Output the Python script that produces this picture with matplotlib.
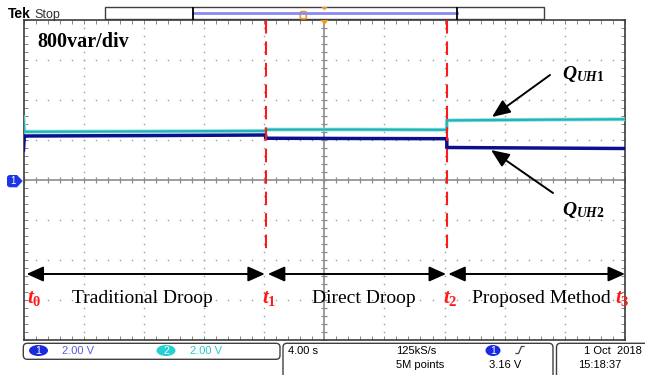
import numpy as np
import matplotlib.pyplot as plt
from matplotlib.patches import FancyBboxPatch, Rectangle, Polygon, Ellipse

plt.rcParams['mathtext.fontset'] = 'custom'
plt.rcParams['mathtext.it'] = 'Liberation Serif:italic:bold'
plt.rcParams['mathtext.rm'] = 'Liberation Serif:bold'
plt.rcParams['mathtext.bf'] = 'Liberation Serif:bold'

# scope screen: 10 div x 4.00 s, 8 div x 800 var
SEC_DIV = 4.0
VAR_DIV = 800.0

# reactive power traces (s, var)
cyan_time = [0.0, 0.05, 0.1, 8.0, 16.1, 16.1, 22.0, 28.15, 28.15, 34.0, 40.0]
cyan_var = [1250, 1000, 965, 972, 982, 1008, 1010, 1004, 1192, 1205, 1215]
blue_time = [0.0, 0.05, 0.1, 8.0, 16.1, 16.1, 22.0, 28.15, 28.15, 34.0, 40.0]
blue_var = [600, 850, 880, 888, 900, 835, 830, 826, 650, 640, 630]

switch_times = [16.1, 28.15]          # t1, t2
stage_start = [0.2, 16.25, 28.25]
stage_end = [16.05, 28.1, 40.0]
stage_names = ['Traditional Droop', 'Direct Droop', 'Proposed Method']
time_labels = [r'$t_0$', r'$t_1$', r'$t_2$', r'$t_3$']

CYAN = '#20b4b6'
NAVY = '#0b108e'
RED = '#ff1a1a'
ORANGE = '#f29a1c'
SERIF = 'Liberation Serif'
SANS = 'Liberation Sans'

fig = plt.figure(figsize=(6.45, 3.75), dpi=100)
fig.patch.set_facecolor('white')

# ---- scope screen ----
ax = fig.add_axes([23.5 / 645, 35 / 375, 601.5 / 645, 320 / 375])
ax.set_xlim(0, 10 * SEC_DIV)
ax.set_ylim(-4 * VAR_DIV, 4 * VAR_DIV)
ax.set_xticks(np.arange(0, 10 * SEC_DIV + 0.01, SEC_DIV / 5))
ax.set_yticks(np.arange(-4 * VAR_DIV, 4 * VAR_DIV + 1, VAR_DIV / 5))
ax.tick_params(direction='in', length=3, width=0.6, colors='#707070',
               top=True, right=True, labelbottom=False, labelleft=False)
for s in ax.spines.values():
    s.set_color('#3c3c3c')
    s.set_linewidth(1.2)

# dotted graticule
fine_x = np.arange(0, 10 * SEC_DIV + 0.01, SEC_DIV / 5)
fine_y = np.arange(-4 * VAR_DIV, 4 * VAR_DIV + 1, VAR_DIV / 5)
for k in range(1, 10):
    if k != 5:
        ax.plot(np.full(len(fine_y), k * SEC_DIV), fine_y, ls='none', marker='s',
                ms=1.0, mec='none', mfc='#9a9a9a')
for k in range(-3, 4):
    if k != 0:
        ax.plot(fine_x, np.full(len(fine_x), k * VAR_DIV), ls='none', marker='s',
                ms=1.0, mec='none', mfc='#9a9a9a')

# centre cross with minor ticks
ax.axhline(0, color='#8c8c8c', lw=1.2)
ax.axvline(5 * SEC_DIV, color='#8c8c8c', lw=1.2)
ax.plot(fine_x, np.zeros(len(fine_x)), ls='none', marker='|', ms=5, mew=0.9, mec='#8c8c8c')
ax.plot(np.full(len(fine_y), 5 * SEC_DIV), fine_y, ls='none', marker='_', ms=5, mew=0.9,
        mec='#8c8c8c')

# traces
ax.plot(cyan_time, cyan_var, color='#98e2e2', lw=2.8, zorder=3)
ax.plot(cyan_time, cyan_var, color=CYAN, lw=1.6, zorder=3)
ax.plot(blue_time, blue_var, color=NAVY, lw=2.5, zorder=4)

# switching instants
for t in switch_times:
    ax.plot([t, t], [4 * VAR_DIV, -1520], color=RED, lw=1.5, ls=(0, (6.5, 3.8)), zorder=5)

# stage arrows
arrow_y = -1880
for a, b in zip(stage_start, stage_end):
    ax.annotate('', xy=(b, arrow_y), xytext=(a, arrow_y),
                arrowprops=dict(arrowstyle='<|-|>,head_length=0.85,head_width=0.38',
                                mutation_scale=12, color='black', lw=1.4,
                                shrinkA=0, shrinkB=0), zorder=6)

# ---- overlay in pixel coordinates ----
ov = fig.add_axes([0, 0, 1, 1], zorder=10)
ov.set_xlim(0, 645)
ov.set_ylim(375, 0)
ov.axis('off')
ov.patch.set_alpha(0)

ov.text(37, 46.7, '800var/div', fontfamily=SERIF, fontweight='bold', fontsize=14.5,
        va='baseline', ha='left')

ov.text(562, 79.5, r'$Q_{UH1}$', fontsize=14, va='baseline', ha='left')
ov.text(562, 215, r'$Q_{UH2}$', fontsize=14, va='baseline', ha='left')
ov.annotate('', xy=(492, 117), xytext=(550, 75),
            arrowprops=dict(arrowstyle='-|>,head_length=1.0,head_width=0.42',
                            mutation_scale=11, color='black', lw=1.4, shrinkA=0, shrinkB=0))
ov.annotate('', xy=(491, 150), xytext=(553, 193),
            arrowprops=dict(arrowstyle='-|>,head_length=1.0,head_width=0.42',
                            mutation_scale=11, color='black', lw=1.4, shrinkA=0, shrinkB=0))

for x, name in zip([72, 312, 472], stage_names):
    ov.text(x, 303, name, fontfamily=SERIF, fontsize=14, va='baseline', ha='left')
for x, lab in zip([27, 262, 443, 615], time_labels):
    ov.text(x, 303, lab, fontsize=15, color=RED, va='baseline', ha='left')

# channel 1 ground marker
ov.add_patch(Polygon([(9, 175), (17, 175), (22.7, 181), (17, 187.3), (9, 187.3), (7, 185.5),
                      (7, 176.8)], closed=True, fc='#1c35e6', ec='none'))
ov.text(13, 181.5, '1', color='white', fontsize=7, fontfamily=SANS, ha='center', va='center')

# top status bar
ov.text(8, 18.3, 'Tek', fontfamily=SANS, fontweight='bold', fontsize=10, va='baseline')
ov.text(34, 18.3, 'Stop', fontfamily=SANS, fontsize=9, color='#303030', va='baseline')
ov.add_patch(Rectangle((105, 7.3), 439.3, 12, fc='white', ec='#404040', lw=1))
ov.plot([193.3, 457.3], [13, 13], color='#8a8af2', lw=2)
ov.plot([193.3, 193.3], [8, 19], color='black', lw=1.3)
ov.plot([457.3, 457.3], [8, 19], color='black', lw=1.3)
ov.add_patch(FancyBboxPatch((300.3, 11.5), 6, 7.3, boxstyle='round,pad=0,rounding_size=1.5',
                            fc='white', ec=ORANGE, lw=1.2))
ov.add_patch(Polygon([(321.5, 7), (327.5, 7), (324.5, 10.5)], closed=True, fc=ORANGE, ec='none'))
ov.add_patch(Polygon([(320.5, 20), (328.5, 20), (324.5, 25)], closed=True, fc=ORANGE, ec='none'))

# bottom readout boxes
for x0, x1, y1 in [(23.3, 280, 359.3), (283, 553, 380), (556.5, 660, 380)]:
    ov.add_patch(FancyBboxPatch((x0, 343.3), x1 - x0, y1 - 343.3,
                                boxstyle='round,pad=0,rounding_size=4',
                                fc='white', ec='#404040', lw=1))

ov.add_patch(Ellipse((38.5, 350.5), 19, 11, fc='#1a2ae0', ec='none'))
ov.text(38.5, 351, '1', color='white', fontsize=7.5, fontfamily=SANS, ha='center', va='center')
ov.text(62, 351, '2.00 V', color='#5a5aea', fontsize=8, fontfamily=SANS, va='center')
ov.add_patch(Ellipse((166, 350.5), 19, 11, fc='#24d0d4', ec='none'))
ov.text(166, 351, '2', color='white', fontsize=7.5, fontfamily=SANS, ha='center', va='center')
ov.text(190, 351, '2.00 V', color='#2cc8cc', fontsize=8, fontfamily=SANS, va='center')

ov.text(288, 351, '4.00 s', fontsize=8, fontfamily=SANS, va='center')
ov.text(416.5, 351, '125kS/s', fontsize=8, fontfamily=SANS, va='center', ha='center')
ov.text(420, 365.5, '5M points', fontsize=8, fontfamily=SANS, va='center', ha='center')
ov.add_patch(Ellipse((493, 350.5), 15, 11, fc='#1a2ae0', ec='none'))
ov.text(493, 351, '1', color='white', fontsize=7.5, fontfamily=SANS, ha='center', va='center')
ov.plot([516, 518.5, 521.5, 524], [353.5, 353.5, 346.5, 346.5], color='#404040', lw=0.9)
ov.text(505, 365.5, '3.16 V', fontsize=8, fontfamily=SANS, va='center', ha='center')
ov.text(613, 351, '1 Oct  2018', fontsize=8, fontfamily=SANS, va='center', ha='center')
ov.text(600, 365.5, '15:18:37', fontsize=8, fontfamily=SANS, va='center', ha='center')

fig.savefig('out.png', dpi=100)
